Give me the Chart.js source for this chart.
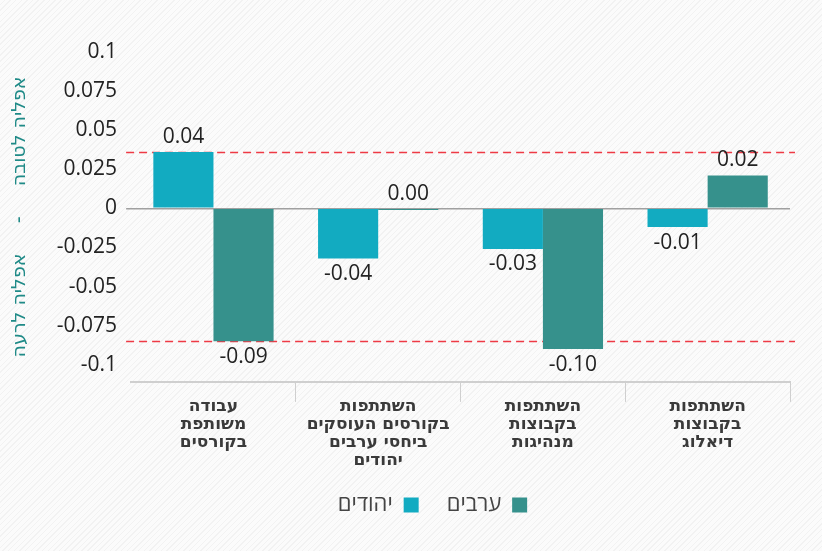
<!DOCTYPE html>
<html lang="he">
<head>
<meta charset="utf-8">
<script src="https://cdn.jsdelivr.net/npm/chart.js@4/dist/chart.umd.min.js"></script>
<style>
  html, body { margin: 0; padding: 0; }
  body {
    width: 822px; height: 551px; overflow: hidden;
    background: repeating-linear-gradient(-45deg, #fbfbfb 0px, #fbfbfb 3px, #f2f2f2 3px, #f2f2f2 4px);
  }
  #wrap { position: relative; width: 822px; height: 551px; }
</style>
</head>
<body>
<div id="wrap"><canvas id="chart" width="822" height="551"></canvas></div>
<script>
// ---- data ----
const categories = [
  ["עבודה", "משותפת", "בקורסים"],
  ["השתתפות", "בקורסים העוסקים", "ביחסי ערבים", "יהודים"],
  ["השתתפות", "בקבוצות", "מנהיגות"],
  ["השתתפות", "בקבוצות", "דיאלוג"]
];
const seriesNames = ["יהודים", "ערבים"];
const jewsValues  = [0.036, -0.032, -0.026, -0.012];
const arabsValues = [-0.085, -0.001, -0.090, 0.021];
const jewsLabels  = ["0.04", "-0.04", "-0.03", "-0.01"];
const arabsLabels = ["-0.09", "0.00", "-0.10", "0.02"];
const yTickValues = [0.1, 0.075, 0.05, 0.025, 0, -0.025, -0.05, -0.075, -0.1];
const thresholdValues = [0.036, -0.085];
const yTitle = "אפליה לטובה     -     אפליה לרעה";

const colors = { jews: "#12abc1", arabs: "#36918c", teal: "#1f8a87", red: "#ee3a45" };
const valueFont = '21px "Open Sans", "DejaVu Sans", sans-serif';

const thresholdPlugin = {
  id: "thresholds",
  beforeDatasetsDraw(chart) {
    const { ctx, scales: { y } } = chart;
    const left = chart.chartArea.left - 5, right = chart.chartArea.right + 5;
    ctx.save();
    ctx.strokeStyle = colors.red;
    ctx.lineWidth = 1.3;
    ctx.setLineDash([8, 5]);
    thresholdValues.forEach(v => {
      const py = Math.round(y.getPixelForValue(v)) + 0.5;
      ctx.beginPath(); ctx.moveTo(left, py); ctx.lineTo(right, py); ctx.stroke();
    });
    ctx.restore();
  }
};

const valueLabelPlugin = {
  id: "valueLabels",
  afterDatasetsDraw(chart) {
    const { ctx } = chart;
    const labelSets = [jewsLabels, arabsLabels];
    ctx.save();
    ctx.font = valueFont;
    ctx.fillStyle = "#222";
    ctx.textAlign = "center";
    chart.data.datasets.forEach((ds, di) => {
      const meta = chart.getDatasetMeta(di);
      meta.data.forEach((bar, i) => {
        const txt = labelSets[di][i];
        const neg = txt.startsWith("-");
        const top = Math.min(bar.y, bar.base), bottom = Math.max(bar.y, bar.base);
        if (neg) { ctx.textBaseline = "top"; ctx.fillText(txt, bar.x, bottom + 5); }
        else { ctx.textBaseline = "bottom"; ctx.fillText(txt, bar.x, top - 5); }
      });
    });
    ctx.restore();
  }
};

const legendShift = {
  id: "legendShift",
  afterLayout(chart) {
    const lg = chart.legend;
    if (lg) { lg.left += 33; lg.right += 33; }
  }
};

new Chart(document.getElementById("chart"), {
  type: "bar",
  data: {
    labels: categories,
    datasets: [
      { label: seriesNames[0], data: jewsValues, backgroundColor: colors.jews },
      { label: seriesNames[1], data: arabsValues, backgroundColor: colors.arabs }
    ]
  },
  options: {
    responsive: false,
    animation: false,
    devicePixelRatio: 1,
    layout: { padding: { top: 52, right: 32, bottom: 25, left: 9 } },
    datasets: { bar: { categoryPercentage: 0.73, barPercentage: 1.0 } },
    plugins: {
      legend: {
        position: "bottom",
        rtl: true,
        reverse: true,
        labels: {
          font: { size: 22, family: '"Open Sans", "DejaVu Sans", sans-serif' },
          color: "#444",
          boxWidth: 15, boxHeight: 15,
          padding: 28
        }
      },
      tooltip: { enabled: false }
    },
    scales: {
      x: {
        grid: {
          offset: true,
          drawOnChartArea: false,
          drawTicks: true,
          tickLength: 20,
          color: ctx => (ctx.index === 0 || ctx.index >= categories.length) ? "rgba(0,0,0,0)" : "#cfcfcf"
        },
        border: { display: true, color: "#cfcfcf", width: 2 },
        ticks: {
          color: "#3a3a3a",
          font: { size: 17, weight: "bold", family: '"DejaVu Sans", "Liberation Sans", sans-serif', lineHeight: 1.06 },
          padding: -4,
          maxRotation: 0
        }
      },
      y: {
        min: -0.111,
        max: 0.1,
        afterBuildTicks: scale => { scale.ticks = yTickValues.map(v => ({ value: v })); },
        grid: {
          drawOnChartArea: true,
          drawTicks: true,
          tickLength: 5,
          lineWidth: 1.5,
          color: ctx => (ctx.tick && ctx.tick.value === 0) ? "#a0a0a0" : "rgba(0,0,0,0)"
        },
        border: { display: false },
        ticks: {
          color: "#222",
          font: { size: 21, family: '"Open Sans", "DejaVu Sans", sans-serif' },
          padding: 9,
          callback: v => String(v)
        },
        title: {
          display: true,
          text: yTitle,
          color: colors.teal,
          font: { size: 19, family: '"DejaVu Sans", "Liberation Sans", sans-serif' },
          padding: { top: 0, bottom: 16 }
        }
      }
    }
  },
  plugins: [thresholdPlugin, valueLabelPlugin, legendShift]
});
</script>
</body>
</html>
